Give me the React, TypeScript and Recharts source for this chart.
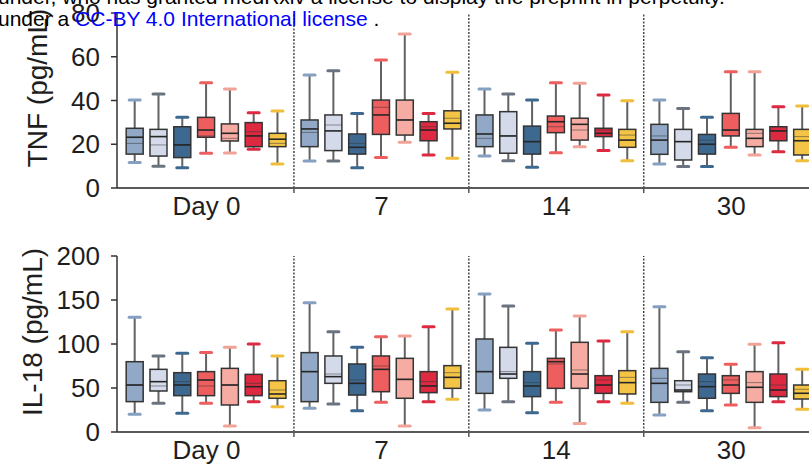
import { Bar, ComposedChart, ReferenceLine, XAxis, YAxis } from "recharts"

const FONT = '"Liberation Sans", Arial, sans-serif'

const days = ["Day 0", "7", "14", "30"]
const cohortFill = ["#91a8c6", "#d4dae9", "#3d6991", "#ef5e5e", "#f6aca2", "#dd2a41", "#f3c446"]
const cohortCap = ["#86a0c2", "#6b7280", "#3d6991", "#ef5e5e", "#f2a398", "#dd2a41", "#f0be3a"]

// TNF (pg/mL): one row per day, seven cohorts each
const tnfMin = [
  [11.7, 10.0, 9.3, 15.9, 16.0, 17.7, 11.0],
  [12.3, 12.3, 9.3, 14.0, 20.9, 15.1, 13.6],
  [14.6, 12.5, 9.5, 16.1, 18.9, 17.1, 12.5],
  [11.0, 9.8, 9.8, 18.6, 15.1, 16.6, 12.5],
]
const tnfQ1 = [
  [15.5, 14.6, 13.9, 23.2, 21.5, 18.9, 18.9],
  [18.9, 17.1, 15.5, 24.5, 24.2, 21.6, 27.0],
  [18.9, 15.9, 15.5, 25.3, 21.9, 23.5, 18.6],
  [15.4, 12.8, 15.5, 23.8, 18.9, 21.6, 15.1],
]
const tnfMedian = [
  [23.2, 23.5, 19.7, 26.5, 25.0, 23.8, 22.3],
  [27.0, 26.1, 18.6, 33.4, 31.1, 26.5, 29.6],
  [24.7, 23.8, 21.2, 30.3, 29.1, 25.0, 21.9],
  [21.9, 21.2, 20.0, 26.5, 22.7, 26.1, 21.6],
]
const tnfMean = [
  [20.4, 19.7, 19.7, 23.8, 22.7, 25.7, 20.4],
  [25.4, 28.8, 20.4, 36.9, 31.1, 28.0, 31.9],
  [22.7, 23.8, 21.2, 28.0, 26.5, 26.5, 24.2],
  [23.8, 21.2, 21.9, 26.5, 25.0, 26.1, 23.5],
]
const tnfQ3 = [
  [27.3, 26.8, 28.0, 32.3, 29.3, 29.9, 25.0],
  [31.1, 33.4, 24.7, 40.2, 40.2, 30.3, 35.3],
  [33.4, 34.9, 28.3, 32.9, 31.9, 27.3, 26.8],
  [29.1, 26.8, 24.5, 34.1, 26.8, 28.0, 26.8],
]
const tnfMax = [
  [40.2, 43.0, 32.3, 48.1, 45.3, 34.4, 35.2],
  [51.7, 53.6, 34.1, 58.5, 70.4, 34.1, 52.9],
  [45.3, 43.0, 40.2, 48.1, 47.9, 42.5, 39.9],
  [40.2, 36.4, 32.3, 53.2, 53.2, 37.2, 37.5],
]

// IL-18 (pg/mL)
const il18Min = [
  [20.1, 32.6, 21.2, 32.6, 6.8, 34.5, 28.8],
  [26.9, 31.8, 24.2, 33.7, 6.8, 34.5, 37.1],
  [25.0, 34.5, 22.0, 33.7, 9.8, 34.5, 32.6],
  [19.3, 33.7, 24.2, 30.7, 4.9, 34.5, 25.8],
]
const il18Q1 = [
  [34.5, 46.6, 41.3, 41.3, 30.7, 41.3, 38.3],
  [34.5, 55.3, 42.0, 45.8, 38.3, 44.7, 49.6],
  [43.9, 61.0, 40.2, 49.6, 49.6, 43.9, 43.2],
  [33.7, 45.8, 38.3, 43.9, 33.7, 40.2, 37.5],
]
const il18Median = [
  [53.4, 57.2, 53.4, 59.1, 53.4, 51.5, 43.2],
  [68.6, 62.9, 55.3, 71.2, 59.8, 52.3, 62.1],
  [68.6, 65.9, 52.3, 79.9, 65.9, 53.4, 56.1],
  [55.3, 47.7, 51.5, 53.4, 50.8, 47.7, 44.0],
]
const il18Mean = [
  [53.4, 52.3, 57.2, 52.3, 53.4, 55.3, 47.7],
  [68.6, 65.9, 59.1, 75.0, 59.8, 57.2, 67.4],
  [68.6, 68.6, 56.1, 77.3, 70.5, 59.1, 62.1],
  [61.0, 53.4, 57.2, 59.1, 56.1, 53.4, 48.5],
]
const il18Q3 = [
  [79.9, 71.2, 67.4, 68.6, 72.3, 65.5, 58.3],
  [90.2, 86.4, 77.3, 86.4, 83.7, 68.6, 75.4],
  [105.7, 96.2, 68.6, 83.7, 101.9, 64.0, 69.7],
  [72.3, 58.3, 65.9, 64.0, 68.6, 65.9, 53.4],
]
const il18Max = [
  [130.3, 86.4, 89.4, 90.2, 96.2, 100.0, 86.4],
  [147.0, 114.0, 96.2, 108.3, 109.0, 119.7, 139.8],
  [156.8, 143.2, 100.8, 116.0, 131.8, 103.4, 114.0],
  [142.4, 91.3, 84.5, 76.9, 99.6, 101.5, 71.2],
]

const tnfTicks = [0, 20, 40, 60, 80]
const il18Ticks = [0, 50, 100, 150, 200]

// layout of the x axis (one unit = one box slot)
const GROUP_SPAN = 7.35
const X_DOMAIN: [number, number] = [-0.76, 28.32]
const separators = [1, 2, 3].map((g) => g * GROUP_SPAN - (GROUP_SPAN - 6) / 2)
const labelPos = days.map((_, g) => g * GROUP_SPAN + 3)

type Grid = number[][]

function buildRows(min: Grid, q1: Grid, median: Grid, mean: Grid, q3: Grid, max: Grid) {
  const rows: any[] = []
  days.forEach((_, g) => {
    cohortFill.forEach((_, i) => {
      rows.push({
        pos: g * GROUP_SPAN + i,
        cohort: i,
        range: [min[g][i], max[g][i]],
        min: min[g][i],
        q1: q1[g][i],
        median: median[g][i],
        mean: mean[g][i],
        q3: q3[g][i],
        max: max[g][i],
      })
    })
  })
  return rows
}

const tnfRows = buildRows(tnfMin, tnfQ1, tnfMedian, tnfMean, tnfQ3, tnfMax)
const il18Rows = buildRows(il18Min, il18Q1, il18Median, il18Mean, il18Q3, il18Max)

function BoxShape(props: any) {
  const { x, y, width, height, payload } = props
  if (x == null || y == null || !payload) return null
  const top = Math.min(y, y + height)
  const span = Math.abs(height)
  const { min, max } = payload
  // bar covers [min, max]; place the quartiles on the same linear scale
  const py = (v: number) => top + (span * (max - v)) / (max - min)
  const cx = x + width / 2
  const fill = cohortFill[payload.cohort]
  const cap = cohortCap[payload.cohort]
  const capHalf = 5.5
  return (
    <g>
      <line x1={cx} x2={cx} y1={py(max)} y2={py(min)} stroke="#626262" strokeWidth={2} />
      <line x1={cx - capHalf} x2={cx + capHalf} y1={py(max)} y2={py(max)} stroke={cap} strokeWidth={3} strokeLinecap="round" />
      <line x1={cx - capHalf} x2={cx + capHalf} y1={py(min)} y2={py(min)} stroke={cap} strokeWidth={3} strokeLinecap="round" />
      <rect x={x} y={py(payload.q3)} width={width} height={py(payload.q1) - py(payload.q3)} fill={fill} stroke="#343434" strokeWidth={1.5} />
      <line x1={x} x2={x + width} y1={py(payload.mean)} y2={py(payload.mean)} stroke="#343434" strokeOpacity={0.5} strokeWidth={1} />
      <line x1={x} x2={x + width} y1={py(payload.median)} y2={py(payload.median)} stroke="#262626" strokeWidth={1.6} />
    </g>
  )
}

const TICK_MARGIN = 7

function DayTick(props: any) {
  const { x, y, payload } = props
  const idx = labelPos.findIndex((p) => Math.abs(p - payload.value) < 1e-6)
  if (idx < 0) {
    const axisY = y - TICK_MARGIN
    return <line x1={x} x2={x} y1={axisY} y2={axisY + 5} stroke="#555" strokeWidth={1.5} />
  }
  return (
    <text x={x} y={y} dy="0.76em" textAnchor="middle" fontSize={26} fill="#1e1e1e" fontFamily={FONT}>
      {days[idx]}
    </text>
  )
}

type PanelProps = {
  rows: any[]
  yMax: number
  yTicks: number[]
  height: number
  marginTop: number
  xAxisHeight: number
}

function BoxPanel({ rows, yMax, yTicks, height, marginTop, xAxisHeight }: PanelProps) {
  return (
    <ComposedChart width={809} height={height} data={rows} margin={{ top: marginTop, right: 0, bottom: 0, left: 0 }}>
      <XAxis
        dataKey="pos"
        type="number"
        domain={X_DOMAIN}
        allowDataOverflow
        ticks={[...separators, ...labelPos]}
        interval={0}
        tick={<DayTick />}
        tickLine={false}
        tickSize={0}
        tickMargin={TICK_MARGIN}
        height={xAxisHeight}
        axisLine={{ stroke: "#5a5a5a", strokeWidth: 2 }}
      />
      <YAxis
        type="number"
        domain={[0, yMax]}
        ticks={yTicks}
        interval={0}
        width={117}
        tickSize={6}
        tickMargin={11}
        axisLine={{ stroke: "#333", strokeWidth: 1.5 }}
        tickLine={{ stroke: "#333", strokeWidth: 1.5 }}
        tick={{ fontSize: 26, fill: "#1e1e1e", fontFamily: FONT }}
      />
      {separators.map((s) => (
        <ReferenceLine key={s} x={s} stroke="#4a4a4a" strokeWidth={1.5} strokeDasharray="2 1.5" />
      ))}
      <Bar dataKey="range" barSize={17} shape={<BoxShape />} isAnimationActive={false} />
    </ComposedChart>
  )
}

export default function App() {
  return (
    <div style={{ position: "relative", width: 809, height: 472, overflow: "hidden", background: "#fff", fontFamily: FONT }}>
      <style>{"body{margin:0}"}</style>
      <div style={{ position: "absolute", left: 0, top: 0 }}>
        <BoxPanel rows={tnfRows} yMax={80} yTicks={tnfTicks} height={230} marginTop={13} xAxisHeight={42} />
      </div>
      <div style={{ position: "absolute", left: 0, top: 230 }}>
        <BoxPanel rows={il18Rows} yMax={200} yTicks={il18Ticks} height={242} marginTop={26} xAxisHeight={40} />
      </div>
      <svg width={809} height={472} style={{ position: "absolute", left: 0, top: 0, pointerEvents: "none" }}>
        <text transform="translate(47, 88) rotate(-90)" textAnchor="middle" fontSize={28} fill="#1e1e1e" fontFamily={FONT}>
          TNF (pg/mL)
        </text>
        <text transform="translate(42, 332) rotate(-90)" textAnchor="middle" fontSize={28} fill="#1e1e1e" fontFamily={FONT}>
          IL-18 (pg/mL)
        </text>
      </svg>
      <div
        style={{
          position: "absolute",
          left: -2,
          top: -13.6,
          fontSize: 21,
          lineHeight: "22px",
          whiteSpace: "nowrap",
          color: "#000",
          fontFamily: FONT,
        }}
      >
        <div>under, who has granted medRxiv a license to display the preprint in perpetuity.</div>
        <div>
          under a <span style={{ color: "#0000ff" }}>CC-BY 4.0 International license</span> .
        </div>
      </div>
    </div>
  )
}
